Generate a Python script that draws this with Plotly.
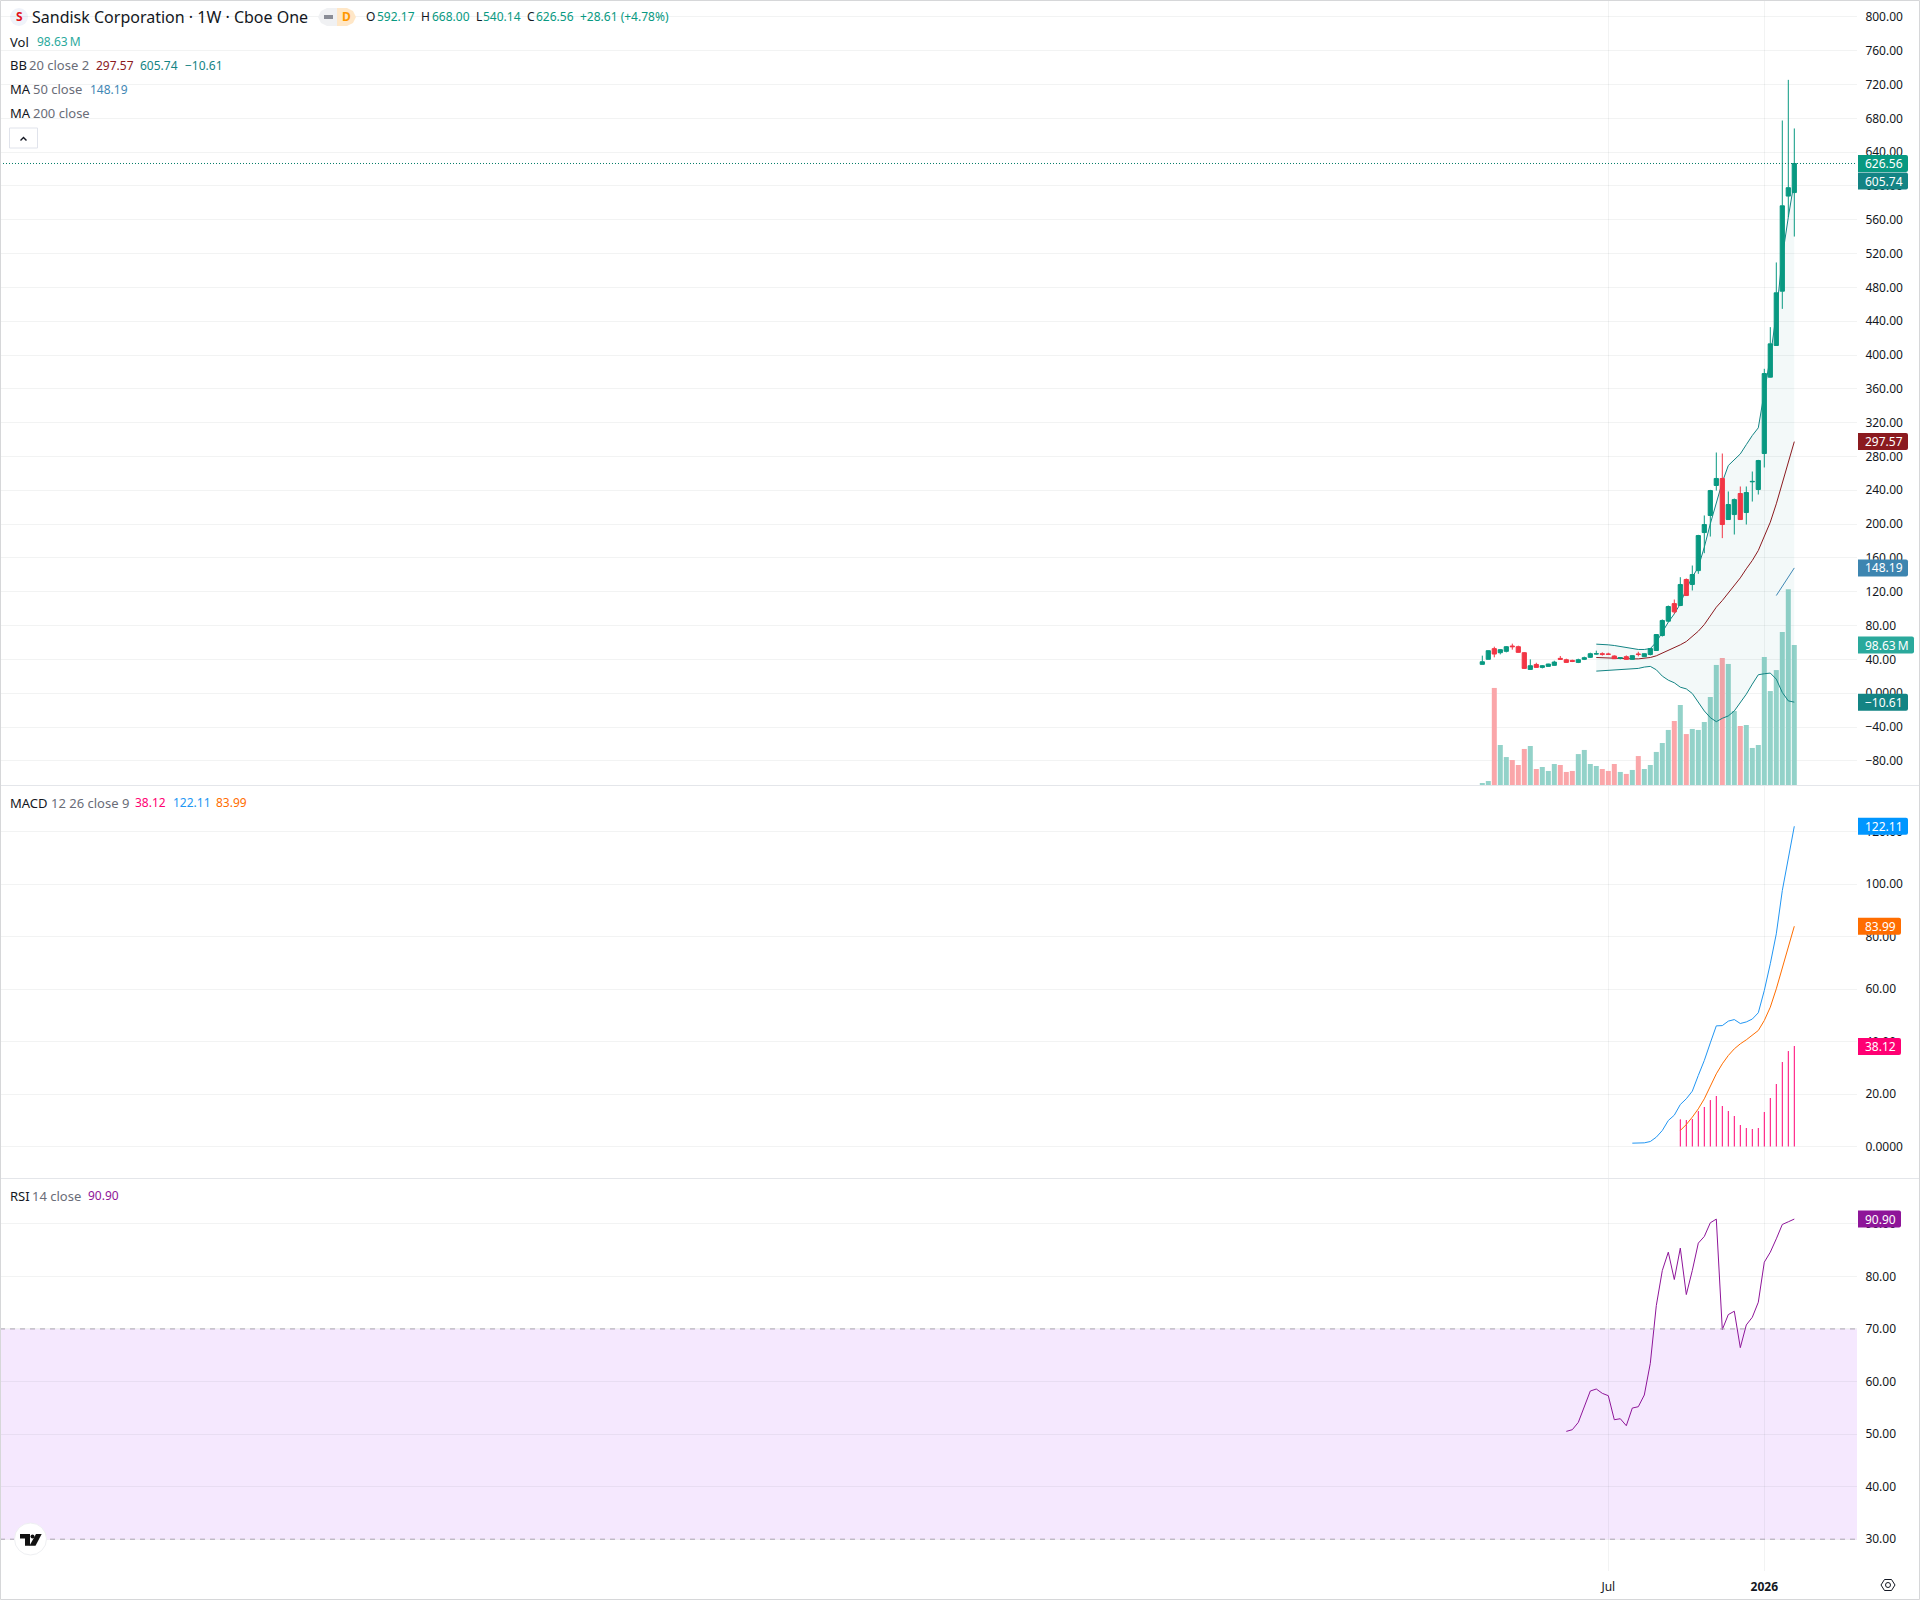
import pandas as pd
import plotly.graph_objects as go

weeks = pd.date_range("2025-02-03", periods=53, freq="7D")
tick_dates = ["2025-06-30", "2025-12-29"]
tick_names = ["Jul", "<b>2026</b>"]

opens = [34.1,40.0,52.7,47.9,49.5,55.8,55.0,47.9,28.1,34.0,30.5,31.7,32.9,41.2,39.6,38.8,36.4,40.0,42.4,46.3,46.7,46.3,44.0,41.2,43.2,40.0,46.3,43.2,45.8,50.5,68.2,85.2,106.0,103.7,134.5,128.6,145.0,190.0,210.2,245.7,254.0,205.4,211.3,236.2,213.7,250.0,240.9,283.5,373.8,411.3,475.5,588.0,592.17]
highs = [44.4,50.5,55.0,52.0,55.8,58.6,56.2,48.7,40.0,36.0,33.3,34.8,38.4,44.0,40.8,39.6,40.8,43.2,47.9,50.3,48.3,47.9,44.7,42.4,44.7,44.7,49.0,47.0,53.0,70.0,87.2,103.7,110.8,137.2,135.7,151.0,187.3,210.2,240.5,284.7,283.5,238.6,230.3,244.5,244.5,262.2,276.0,383.7,433.0,509.5,677.4,725.5,668.0]
lows = [34.0,40.0,42.4,45.9,48.3,51.5,48.0,29.0,28.0,30.2,29.3,31.5,32.5,39.6,36.0,36.8,35.6,39.2,41.6,45.5,44.4,45.5,40.5,40.0,39.6,39.6,43.6,43.0,44.7,50.0,67.0,84.0,93.8,103.0,115.0,121.5,141.2,165.6,185.3,239.7,183.4,205.0,187.7,205.0,199.5,226.7,235.0,267.0,373.5,411.0,454.6,563.0,540.14]
closes = [37.2,50.3,46.3,51.5,55.0,55.0,48.3,29.3,32.5,30.5,32.5,34.5,36.8,40.0,36.4,37.6,39.6,42.0,46.7,46.7,46.0,46.0,40.8,42.0,40.0,44.4,45.9,46.7,52.8,69.4,86.0,102.5,96.2,128.6,115.5,140.4,186.5,199.5,239.7,254.0,199.5,223.2,229.0,205.4,237.4,250.5,275.2,378.1,413.2,473.6,576.5,597.95,626.56]
volumes = [1.4,2.8,68.4,28.2,19.7,17.6,14.1,25.4,27.5,11.3,12.7,9.9,14.8,14.1,9.2,9.9,21.8,24.7,14.8,13.4,11.3,9.9,14.8,9.2,7.8,10.6,20.4,11.3,14.1,23.3,29.6,38.8,45.1,56.4,35.9,39.5,38.8,44.4,62.0,84.6,89.5,85.3,52.1,41.6,42.3,26.1,28.2,90.2,66.2,81.0,107.8,138.0,98.63]

bb_basis = [42.2,41.8,41.8,41.4,41.0,40.6,40.6,40.6,41.0,42.2,44.2,47.3,50.5,54.0,57.2,61.1,67.0,73.3,81.2,91.0,101.7,109.6,118.3,127.4,136.4,147.1,157.0,168.8,184.5,202.3,224.0,249.6,275.2,297.57]
bb_upper = [58.0,58.0,57.2,56.4,55.2,53.6,52.4,51.7,51.7,52.8,60.3,72.2,84.0,93.8,105.7,123.4,137.2,149.0,172.7,200.3,224.0,249.6,269.3,276.0,283.0,294.0,304.8,313.9,354.0,397.5,448.7,515.8,563.0,605.74]
bb_lower = [26.1,26.5,26.9,27.3,27.7,28.1,28.5,29.3,30.9,31.7,27.7,20.2,15.4,12.3,7.1,5.1,-0.4,-10.3,-21.0,-28.9,-33.7,-29.7,-26.9,-21.0,-11.1,-1.2,10.7,21.8,23.0,23.8,16.6,0.8,-9.1,-10.61]
ma50 = [115.5,126.0,137.0,148.19]

macd_line = [1.27,1.27,1.4,1.9,3.56,6.1,9.91,11.95,16.0,18.2,21.1,27.1,32.8,39.5,46.0,46.1,47.8,48.4,46.9,47.5,48.6,51.0,59.5,69.7,81.1,97.6,110.3,122.11]
macd_signal = [6.1,8.39,11.19,14.36,18.18,23.26,27.71,31.52,34.7,37.24,39.15,40.68,42.33,44.24,48.05,53.13,60.13,68.39,76.65,83.99]
macd_hist = [10.17,9.9,10.3,13.3,14.9,17.5,19.07,15.25,13.35,11.44,8.0,6.86,6.48,6.86,12.97,18.3,23.64,32.03,36.2,38.12]
rsi = [50.51,50.83,52.22,55.08,58.19,58.57,57.75,57.3,52.73,52.92,51.59,54.95,55.2,57.43,63.46,74.44,81.11,84.6,79.4,85.37,76.54,81.11,86.32,87.59,90.19,90.89,69.87,72.73,73.37,66.44,70.76,72.22,75.08,82.7,84.6,87.14,89.87,90.38,90.9]

price_ticks = [-80,-40,0,40,80,120,160,200,240,280,320,360,400,440,480,520,560,600,640,680,720,760,800]
macd_ticks = [0,20,40,60,80,100,120]
rsi_ticks = [30,40,50,60,70,80,90]

FONT = "Noto Sans"
UP, DOWN = "#089981", "#f23645"
VOL_UP, VOL_DOWN = "#93d2c9", "#faa6a9"
GRID = "rgba(42,46,57,0.06)"
W, H = 1920.0, 1600.0
AXIS_X = 1857.0


def fmt(v):
    if v == 0:
        return "0.0000"
    return f"{v:.2f}".replace("-", "\u2212")


def px(x):
    return x / W


def py(y):
    return 1 - y / H


fig = go.Figure()
fig.add_bar(x=weeks, y=volumes, width=5 / 6 * 7 * 86400000, yaxis="y",
            marker=dict(color=[VOL_UP if c >= o else VOL_DOWN for o, c in zip(opens, closes)], line_width=0))
fig.add_scatter(x=weeks[19:], y=bb_lower, yaxis="y2", mode="lines", line=dict(color="#138484", width=1))
fig.add_scatter(x=weeks[19:], y=bb_upper, yaxis="y2", mode="lines", line=dict(color="#138484", width=1),
                fill="tonexty", fillcolor="rgba(19,132,132,0.05)")
fig.add_scatter(x=weeks[19:], y=bb_basis, yaxis="y2", mode="lines", line=dict(color="#8b1a1f", width=1))
fig.add_scatter(x=weeks[49:], y=ma50, yaxis="y2", mode="lines", line=dict(color="#3f87b4", width=1))
fig.add_candlestick(x=weeks, open=opens, high=highs, low=lows, close=closes, yaxis="y3", whiskerwidth=0,
                    increasing=dict(line=dict(color=UP, width=1), fillcolor=UP),
                    decreasing=dict(line=dict(color=DOWN, width=1), fillcolor=DOWN))
fig.add_scatter(x=weeks[33:], y=macd_hist, yaxis="y4", mode="markers", marker=dict(color="#ff0073", size=1),
                error_y=dict(type="data", symmetric=False, array=[0] * len(macd_hist), arrayminus=macd_hist,
                             thickness=1, width=0, color="#ff0073"))
fig.add_scatter(x=weeks[25:], y=macd_line, yaxis="y4", mode="lines", line=dict(color="#2196f3", width=1))
fig.add_scatter(x=weeks[33:], y=macd_signal, yaxis="y4", mode="lines", line=dict(color="#ff6d00", width=1))
fig.add_scatter(x=weeks[14:], y=rsi, yaxis="y5", mode="lines", line=dict(color="#8e1599", width=1))

anchor_date = pd.Timestamp("2025-12-29")
x_left = anchor_date - pd.Timedelta(days=1764.3 / 6 * 7)
x_right = anchor_date + pd.Timedelta(days=(AXIS_X - 1764.3) / 6 * 7)
price_range = [720 - (785 - 84.5) / 0.8454, 720 + (84.5 - 1) / 0.8454]
tick_font = dict(family=FONT, size=12, color="#131722")
common = dict(showline=False, zeroline=False, side="right", ticks="outside", ticklen=5, tickcolor="rgba(0,0,0,0)",
              gridcolor=GRID, gridwidth=1, tickfont=tick_font, fixedrange=True)
main_dom = [py(785), py(1)]

annotations, shapes = [], []


def label(x, y, text, color="#131722", size=12, yref="paper", xanchor="left"):
    annotations.append(dict(x=px(x - 1 if xanchor == "left" else x), y=py(y) if yref == "paper" else y,
                            xref="paper", yref=yref, text=text,
                            showarrow=False, xanchor=xanchor, yanchor="middle", borderpad=0,
                            font=dict(family=FONT, size=size, color=color)))


def badge(value, yref, width, color, text):
    hh = 8.5
    path = f"M0,{hh} H{width - 2} Q{width},{hh} {width},{hh - 2} V{-hh + 2} Q{width},{-hh} {width - 2},{-hh} H0 Z"
    shapes.append(dict(type="path", path=path, xref="paper", yref=yref, xsizemode="pixel", ysizemode="pixel",
                       xanchor=px(1858), yanchor=value, fillcolor=color, line_width=0, layer="above"))
    label(1865, value, text, "#ffffff", 12, yref)


def pix_path(points, close=True):
    body = " L".join(f"{px(x):.5f},{py(y):.5f}" for x, y in points)
    return "M" + body + (" Z" if close else "")


# price line and RSI band
shapes.append(dict(type="line", xref="paper", yref="y2", x0=0, x1=px(AXIS_X), y0=closes[-1], y1=closes[-1],
                   line=dict(color="#067d69", width=1, dash="1px,2px"), layer="above"))
shapes.append(dict(type="rect", xref="paper", yref="y5", x0=0, x1=px(AXIS_X), y0=30, y1=70,
                   fillcolor="#f5e8fe", line_width=0, layer="below"))
for level in (30, 70):
    shapes.append(dict(type="line", xref="paper", yref="y5", x0=0, x1=px(AXIS_X), y0=level, y1=level,
                       line=dict(color="#aaa3b2", width=1, dash="5px,5px"), layer="above"))

# panel separators and outer border
for yy in (785.5, 1178.5):
    shapes.append(dict(type="line", xref="paper", yref="paper", x0=0, x1=1, y0=py(yy), y1=py(yy),
                       line=dict(color="#e4e6ea", width=1), layer="above"))
shapes.append(dict(type="rect", xref="paper", yref="paper", x0=px(0.5), x1=px(1919.5), y0=py(1599.5), y1=py(0.5),
                   line=dict(color="#d6d7d9", width=1), layer="above"))

# badges
badge(closes[-1], "y2", 50, UP, fmt(closes[-1]))
badge(bb_upper[-1], "y2", 50, "#138484", fmt(bb_upper[-1]))
badge(bb_basis[-1], "y2", 50, "#8b1a1f", fmt(bb_basis[-1]))
badge(ma50[-1], "y2", 50, "#3d85b0", fmt(ma50[-1]))
badge(bb_lower[-1], "y2", 50, "#138484", fmt(bb_lower[-1]))
badge(volumes[-1], "y", 56, "#2aa99c", f"{volumes[-1]:.2f}\u202fM")
badge(macd_line[-1], "y4", 50, "#0096ff", fmt(macd_line[-1]))
badge(macd_signal[-1], "y4", 43, "#ff6d00", fmt(macd_signal[-1]))
badge(macd_hist[-1], "y4", 43, "#ff0073", fmt(macd_hist[-1]))
badge(rsi[-1], "y5", 43, "#8e1599", fmt(rsi[-1]))

# legend rows
GREY = "#6a6d78"
label(32, 17, "Sandisk Corporation \u00b7 1W \u00b7 Cboe One", "#131722", 16)
label(19, 17, "<b>S</b>", "#e3111b", 12, xanchor="center")
shapes.append(dict(type="circle", xref="paper", yref="paper", x0=px(10), x1=px(28), y0=py(26), y1=py(8),
                   fillcolor="#f0f3fa", line_width=0, layer="below"))
shapes.append(dict(type="path", xref="paper", yref="paper", layer="above", line_width=0, fillcolor="#f0f1f3",
                   path=pix_path([(327, 8), (337, 8), (337, 26), (327, 26), (321, 23), (318, 17), (321, 11)])))
shapes.append(dict(type="path", xref="paper", yref="paper", layer="above", line_width=0, fillcolor="#ffe7c7",
                   path=pix_path([(337, 8), (347, 8), (353, 11), (356, 17), (353, 23), (347, 26), (337, 26)])))
shapes.append(dict(type="rect", xref="paper", yref="paper", x0=px(324), x1=px(333), y0=py(19), y1=py(15),
                   fillcolor="#8a8d96", line_width=0, layer="above"))
label(346.5, 17, "<b>D</b>", "#ff9800", 12, xanchor="center")
for x, text, color in [(365.5, "O", "#131722"), (376.5, f"{opens[-1]:.2f}", UP), (420.6, "H", "#131722"),
                       (431.6, f"{highs[-1]:.2f}", UP), (475.7, "L", "#131722"), (483, f"{lows[-1]:.2f}", UP),
                       (527, "C", "#131722"), (536, f"{closes[-1]:.2f}", UP), (580, "+28.61 (+4.78%)", UP)]:
    label(x, 17, text, color)
label(10, 41.7, "Vol", size=13)
label(36.8, 41.7, f"{volumes[-1]:.2f}\u202fM", "#2aa99c")
label(10, 65.3, "BB", size=13)
label(29, 65.3, "20 close 2", GREY, 13)
label(96.4, 65.3, fmt(bb_basis[-1]), "#8b1a1f")
label(140, 65.3, fmt(bb_upper[-1]), "#138484")
label(184.6, 65.3, fmt(bb_lower[-1]), "#138484")
label(10, 89.5, "MA", size=13)
label(33, 89.5, "50 close", GREY, 13)
label(89.5, 89.5, fmt(ma50[-1]), "#3f87b4")
label(10, 113.2, "MA", size=13)
label(33, 113.2, "200 close", GREY, 13)
label(10, 802.7, "MACD", size=13)
label(51, 802.7, "12 26 close 9", GREY, 13)
label(135.3, 802.7, fmt(macd_hist[-1]), "#ff0073")
label(173, 802.7, fmt(macd_line[-1]), "#2196f3")
label(216.3, 802.7, fmt(macd_signal[-1]), "#ff6d00")
label(10, 1195.7, "RSI", size=13)
label(32, 1195.7, "14 close", GREY, 13)
label(88, 1195.7, fmt(rsi[-1]), "#8e1599")

# collapse button
shapes.append(dict(type="rect", xref="paper", yref="paper", x0=px(9.5), x1=px(37.5), y0=py(148), y1=py(128),
                   fillcolor="#ffffff", line=dict(color="#e0e3eb", width=1), layer="above"))
shapes.append(dict(type="path", xref="paper", yref="paper", layer="above", line=dict(color="#131722", width=1.4),
                   path=pix_path([(20.5, 140.5), (23.5, 137.5), (26.5, 140.5)], close=False)))

# TradingView badge
shapes.append(dict(type="circle", xref="paper", yref="paper", x0=px(14.5), x1=px(46.5), y0=py(1555), y1=py(1523),
                   fillcolor="#ffffff", line=dict(color="#eeeff2", width=1), layer="above"))
logo = [[(20, 1534), (30, 1534), (30, 1545.7), (25, 1545.7), (25, 1538.5), (20, 1538.5)],
        [(36, 1534), (41.7, 1534), (35.5, 1545.7), (29.5, 1545.7)]]
for part in logo:
    shapes.append(dict(type="path", xref="paper", yref="paper", layer="above", line_width=0, fillcolor="#111111",
                       path=pix_path(part)))
shapes.append(dict(type="circle", xref="paper", yref="paper", x0=px(30.5), x1=px(34.5), y0=py(1538.5), y1=py(1534.5),
                   fillcolor="#111111", line_width=0, layer="above"))

# settings hexagon
shapes.append(dict(type="path", xref="paper", yref="paper", layer="above", line=dict(color="#131722", width=1),
                   path=pix_path([(1881, 1585), (1884.5, 1579.5), (1891.5, 1579.5), (1895, 1585), (1891.5, 1590.5),
                                  (1884.5, 1590.5)])))
shapes.append(dict(type="circle", xref="paper", yref="paper", x0=px(1885.5), x1=px(1890.5), y0=py(1587.5),
                   y1=py(1582.5), line=dict(color="#131722", width=1), layer="above"))

fig.update_layout(
    width=1920, height=1600, margin=dict(l=0, r=0, t=0, b=0, pad=0), autosize=False,
    paper_bgcolor="#ffffff", plot_bgcolor="#ffffff", showlegend=False, hovermode=False,
    boxgap=0.3, boxgroupgap=0, barmode="overlay",
    shapes=shapes, annotations=annotations,
    xaxis=dict(domain=[0, px(AXIS_X)], range=[x_left, x_right], type="date", anchor="y5", rangeslider=dict(visible=False),
               tickmode="array", tickvals=tick_dates, ticktext=tick_names, ticks="outside", ticklen=5,
               tickcolor="rgba(0,0,0,0)", showgrid=True, gridcolor=GRID, tickfont=tick_font, showline=False,
               zeroline=False, fixedrange=True),
    yaxis=dict(domain=main_dom, range=[0, 784 / 1.419], visible=False, showgrid=False, fixedrange=True),
    yaxis2=dict(common, overlaying="y", anchor="x", range=price_range, tickmode="array", tickvals=price_ticks,
                ticktext=[fmt(v) for v in price_ticks], showgrid=True),
    yaxis3=dict(overlaying="y", anchor="x", range=price_range, visible=False, showgrid=False, fixedrange=True),
    yaxis4=dict(common, domain=[py(1178), py(786)], anchor="x", range=[-31.5 / 2.6225, (1146.5 - 786) / 2.6225],
                tickmode="array", tickvals=macd_ticks, ticktext=[fmt(v) for v in macd_ticks], showgrid=True),
    yaxis5=dict(common, domain=[py(1571), py(1179)], anchor="x", range=[30 - 31.8 / 5.257, 90 + 44.8 / 5.257],
                tickmode="array", tickvals=rsi_ticks, ticktext=[fmt(v) for v in rsi_ticks], showgrid=True),
)

fig.write_html("out.html", config={"displayModeBar": False},
               post_script="document.body.style.margin='0';document.body.style.overflow='hidden';")
